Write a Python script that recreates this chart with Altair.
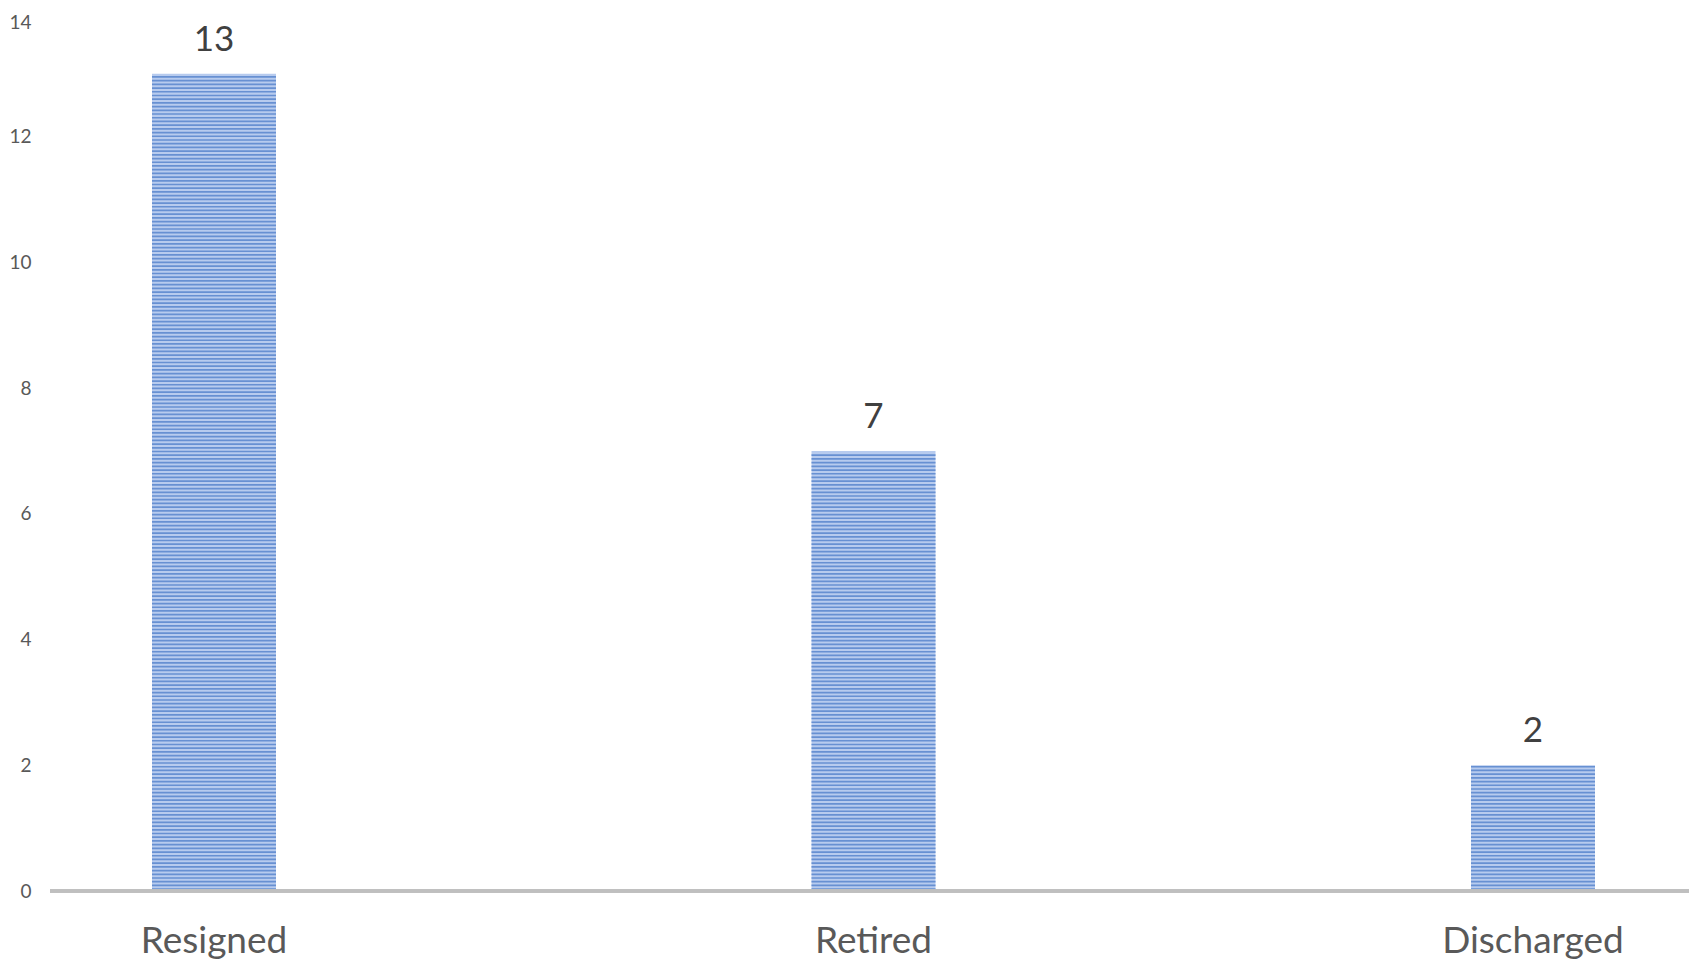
import altair as alt
import pandas as pd

categories = ["Resigned", "Retired", "Discharged"]
counts = [13, 7, 2]
y_ticks = [0, 2, 4, 6, 8, 10, 12, 14]

df = pd.DataFrame({"category": categories, "count": counts})

PLOT_W = 1639
PLOT_H = 880
BAR_W = 124

x_scale = alt.Scale(domain=categories, range=[102, 1545], paddingInner=0.812, paddingOuter=0)
y_scale = alt.Scale(domain=[0, 14], nice=False)

x_axis = alt.Axis(
    title=None, domain=False, ticks=False, tickSize=0, grid=False,
    labelFont="Lato", labelFontSize=37, labelColor="#595959",
    labelPadding=32, labelBaseline="top", labelAngle=0, labelLimit=0,
)
y_axis = alt.Axis(
    title=None, domain=False, ticks=False, tickSize=0, grid=False,
    values=y_ticks, format="d", labelFont="Lato", labelFontSize=19,
    labelColor="#595959", labelPadding=19,
    labelOffset={"condition": {"test": "datum.value == 14", "value": 11}, "value": 0},
)


def xe():
    return alt.X("category:N", sort=categories, scale=x_scale, axis=x_axis)


def ye(field):
    return alt.Y(field, scale=y_scale, axis=y_axis)


base = alt.Chart(df)

bars = base.mark_bar(color="#B7CBEE", size=BAR_W).encode(x=xe(), y=ye("count:Q"))

stripes = base.transform_calculate(
    stripe="sequence(0.03, datum.count - 0.02, 0.059)"
).transform_flatten(["stripe"]).mark_tick(
    color="#6790D2", thickness=1.7, size=BAR_W, opacity=1
).encode(x=xe(), y=ye("stripe:Q"))

labels = base.mark_text(
    font="Lato", fontSize=35, color="#404040", baseline="alphabetic", dy=-23
).encode(x=xe(), y=ye("count:Q"), text="count:Q")

baseline = base.mark_rule(color="#BFBFBF", strokeWidth=3.5).encode(
    y=alt.Y(datum=0, scale=y_scale, axis=y_axis),
    x=alt.value(0),
    x2=alt.value(PLOT_W),
)

chart = alt.layer(bars, stripes, baseline, labels).properties(
    width=PLOT_W,
    height=PLOT_H,
    background="white",
    autosize=alt.AutoSizeParams(type="none"),
    padding={"left": 42, "top": 3, "right": 0, "bottom": 69},
).configure_view(stroke=None)

chart.save("out.html", embed_options={"renderer": "svg", "actions": False})
